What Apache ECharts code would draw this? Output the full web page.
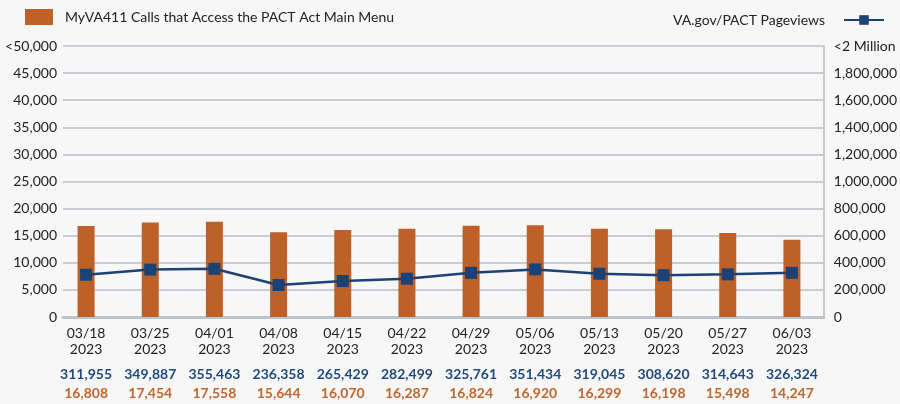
<!DOCTYPE html>
<html>
<head>
<meta charset="utf-8">
<script src="https://cdn.jsdelivr.net/npm/echarts@6/dist/echarts.min.js"></script>
<style>
  html, body { margin: 0; padding: 0; background: #f7f7f7; }
  #main { width: 900px; height: 404px; }
</style>
</head>
<body>
<div id="main"></div>
<script>
// weekly data
const weeks = ['03/18', '03/25', '04/01', '04/08', '04/15', '04/22', '04/29', '05/06', '05/13', '05/20', '05/27', '06/03'];
const year = '2023';
const pageviews = [311955, 349887, 355463, 236358, 265429, 282499, 325761, 351434, 319045, 308620, 314643, 326324];
const calls = [16808, 17454, 17558, 15644, 16070, 16287, 16824, 16920, 16299, 16198, 15498, 14247];

const callsName = 'MyVA411 Calls that Access the PACT Act Main Menu';
const viewsName = 'VA.gov/PACT Pageviews';

const orange = '#bd6128';
const blue = '#1c4275';
const fmt = (v) => v.toLocaleString('en-US');

const chart = echarts.init(document.getElementById('main'));

const option = {
  backgroundColor: '#f7f7f7',
  textStyle: { fontFamily: 'Lato', color: '#222' },
  animation: false,
  legend: [
    {
      data: [{ name: callsName, icon: 'rect' }],
      left: 20, top: 4,
      itemWidth: 28, itemHeight: 16,
      textStyle: { fontSize: 14, color: '#222', padding: [0, 0, 0, 7] }
    },
    {
      data: [viewsName],
      right: 10, top: 8,
      align: 'right',
      itemWidth: 40, itemHeight: 12,
      textStyle: { fontSize: 14, color: '#222', padding: [0, 14, 0, 0] }
    }
  ],
  grid: [
    // grid with visible axes and split lines
    { left: 63, right: 72, top: 46, bottom: 87 },
    // grid holding the series (slightly shifted like the original)
    { left: 54, right: 76, top: 46, bottom: 87 }
  ],
  xAxis: [
    {
      type: 'category', gridIndex: 0, data: weeks,
      axisLine: { show: true, lineStyle: { color: '#bcc3cb', width: 3 } },
      axisTick: { show: false },
      axisLabel: { show: false }
    },
    {
      type: 'category', gridIndex: 1, data: weeks,
      axisLine: { show: false },
      axisTick: { show: false },
      axisLabel: {
        interval: 0,
        margin: 8,
        formatter: (v, i) => `{a|${v}}\n{a|${year}}\n{s| }\n{b|${fmt(pageviews[i])}}\n{o|${fmt(calls[i])}}`,
        rich: {
          a: { fontSize: 14, lineHeight: 16, color: '#222', fontFamily: 'Lato' },
          s: { fontSize: 4, lineHeight: 6 },
          b: { fontSize: 14, lineHeight: 22, color: '#1f4a80', fontWeight: 'bold', fontFamily: 'Lato' },
          o: { fontSize: 14, lineHeight: 16, color: '#c0662c', fontWeight: 'bold', fontFamily: 'Lato' }
        }
      }
    }
  ],
  yAxis: [
    {
      type: 'value', gridIndex: 0, min: 0, max: 50000, interval: 5000,
      axisLine: { show: false },
      axisTick: { show: false },
      splitLine: { lineStyle: { color: '#c8cdd3', width: 2 } },
      axisLabel: {
        fontSize: 14, color: '#222', margin: 6,
        formatter: (v) => v === 50000 ? '<50,000' : fmt(v)
      }
    },
    {
      type: 'value', gridIndex: 0, position: 'right', min: 0, max: 2000000, interval: 200000,
      axisLine: { show: true, lineStyle: { color: '#c3cad2', width: 2 } },
      axisTick: { show: false },
      splitLine: { show: false },
      axisLabel: {
        fontSize: 14, color: '#222', margin: 10,
        formatter: (v) => v === 2000000 ? '<2 Million' : fmt(v)
      }
    },
    { type: 'value', gridIndex: 1, min: 0, max: 50000, show: false },
    { type: 'value', gridIndex: 1, position: 'right', min: 0, max: 2000000, show: false }
  ],
  series: [
    {
      name: callsName,
      type: 'bar',
      xAxisIndex: 1, yAxisIndex: 2,
      barWidth: 17,
      itemStyle: { color: orange },
      data: calls
    },
    {
      name: viewsName,
      type: 'line',
      xAxisIndex: 1, yAxisIndex: 3,
      symbol: 'rect',
      symbolSize: 12,
      lineStyle: { color: blue, width: 2.5 },
      itemStyle: { color: blue },
      data: pageviews
    }
  ]
};

chart.setOption(option);
</script>
</body>
</html>
